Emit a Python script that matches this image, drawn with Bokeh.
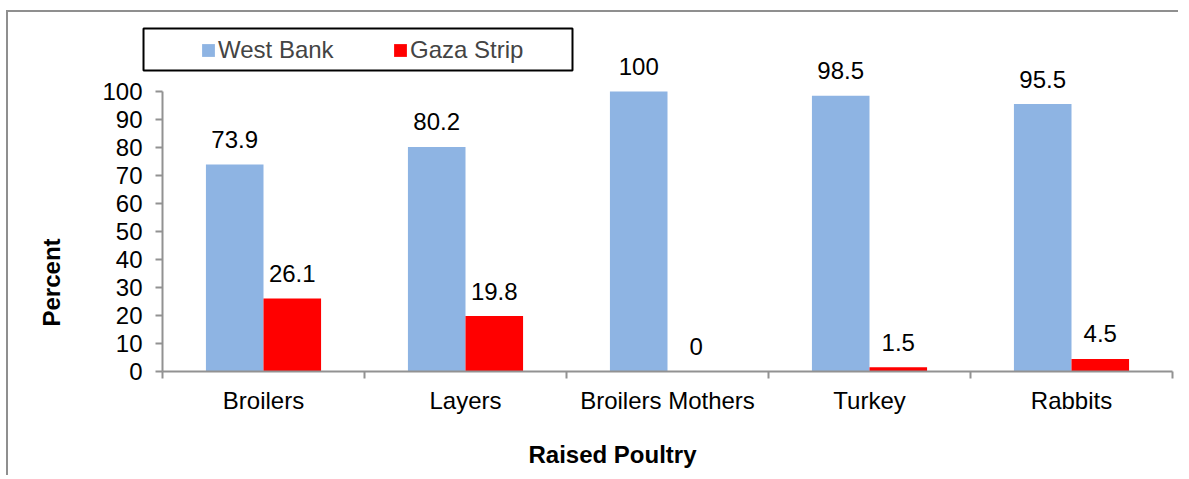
import math
from bokeh.plotting import figure
from bokeh.models import (Range1d, FixedTicker, ColumnDataSource, LabelSet, Label,
                          Legend, LegendItem, BoxAnnotation)
from bokeh.transform import dodge
from bokeh.embed import file_html
from bokeh.resources import INLINE
from bokeh.core.properties import value

# ---- data ----
categories = ["Broilers", "Layers", "Broilers Mothers", "Turkey", "Rabbits"]
west_bank = [73.9, 80.2, 100, 98.5, 95.5]
gaza_strip = [26.1, 19.8, 0, 1.5, 4.5]
y_ticks = [0, 10, 20, 30, 40, 50, 60, 70, 80, 90, 100]
series_names = ["West Bank", "Gaza Strip"]
series_colors = ["#8EB4E3", "#FF0000"]
x_title = "Raised Poultry"
y_title = "Percent"

FONT = "Liberation Sans"
FS = "24px"
AXIS_GREY = "#929292"

# ---- layout (canvas pixels) ----
W, H = 1172, 465
X0_PX, Y0_PX = 154, 359        # canvas position of data origin (0, 0)
PX_PER_CAT, PX_PER_PCT = 202.0, 2.8

positions = [i + 0.5 for i in range(len(categories))]
src = ColumnDataSource(dict(
    x=positions,
    wb=west_bank,
    gs=gaza_strip,
    wb_lbl=[f"{v:g}" for v in west_bank],
    gs_lbl=[f"{v:g}" for v in gaza_strip],
))

x_range = Range1d(-X0_PX / PX_PER_CAT, (W - X0_PX) / PX_PER_CAT)
y_range = Range1d(-(H - Y0_PX) / PX_PER_PCT, Y0_PX / PX_PER_PCT)

p = figure(width=W, height=H, x_range=x_range, y_range=y_range,
           output_backend="svg", toolbar_location=None,
           min_border_left=0, min_border_right=0,
           min_border_top=0, min_border_bottom=0)
p.styles = {"border-left": "2px solid #8f8f8f", "border-top": "2px solid #8f8f8f",
            "margin-left": "6px", "margin-top": "10px"}
p.outline_line_color = None
p.xgrid.visible = False
p.ygrid.visible = False
p.background_fill_color = "white"
p.border_fill_color = "white"

bw = 0.285
r1 = p.vbar(x=dodge("x", -bw / 2, range=p.x_range), top="wb", width=bw, source=src,
            fill_color=series_colors[0], line_color=None)
r2 = p.vbar(x=dodge("x", bw / 2, range=p.x_range), top="gs", width=bw, source=src,
            fill_color=series_colors[1], line_color=None)

for col, lbl, off in (("wb", "wb_lbl", -bw / 2), ("gs", "gs_lbl", bw / 2)):
    p.add_layout(LabelSet(x=dodge("x", off, range=p.x_range), y=col, text=lbl, source=src,
                          text_align="center", text_baseline="middle", y_offset=25,
                          text_font=value(FONT), text_font_size=value(FS), text_color="black"))

# y axis (fixed at x = 0)
ya = p.yaxis[0]
ya.fixed_location = 0
ya.ticker = FixedTicker(ticks=y_ticks)
ya.bounds = (0, 100)
ya.axis_line_color = AXIS_GREY
ya.axis_line_width = 2
ya.major_tick_line_color = AXIS_GREY
ya.major_tick_line_width = 2
ya.major_tick_out = 7
ya.major_tick_in = 0
ya.minor_tick_line_color = None
ya.major_label_standoff = 13
ya.major_label_text_font = FONT
ya.major_label_text_font_size = FS
ya.major_label_text_color = "black"

# x axis (fixed at y = 0)
xa = p.xaxis[0]
xa.fixed_location = 0
xa.ticker = FixedTicker(ticks=positions, minor_ticks=list(range(len(categories) + 1)))
xa.major_label_overrides = {pos: c for pos, c in zip(positions, categories)}
xa.bounds = (0, len(categories))
xa.axis_line_color = AXIS_GREY
xa.axis_line_width = 2
xa.major_tick_line_color = None
xa.minor_tick_line_color = AXIS_GREY
xa.minor_tick_line_width = 2
xa.minor_tick_out = 7
xa.minor_tick_in = 0
xa.major_label_standoff = 8
xa.major_label_text_font = FONT
xa.major_label_text_font_size = FS
xa.major_label_text_color = "black"

# axis titles
p.add_layout(Label(x=-0.5495, y=31.8, text=y_title, angle=math.pi / 2,
                   text_align="center", text_baseline="alphabetic",
                   text_font=FONT, text_font_size="24px", text_font_style="bold",
                   text_color="black"))
p.add_layout(Label(x=2.2277, y=-29.65, text=x_title,
                   text_align="center", text_baseline="alphabetic",
                   text_font=FONT, text_font_size="24px", text_font_style="bold",
                   text_color="black"))

# legend (items) + its frame
legend = Legend(items=[LegendItem(label=series_names[0], renderers=[r1]),
                       LegendItem(label=series_names[1], renderers=[r2])],
                orientation="horizontal", location=(192, 407 + (H - 459)),
                border_line_color=None, background_fill_alpha=0,
                padding=0, margin=0, spacing=56, label_standoff=2, label_width=118,
                glyph_width=16, glyph_height=16,
                label_text_font=FONT, label_text_font_size=FS)
p.add_layout(legend)
p.add_layout(BoxAnnotation(left=-0.094, right=2.0297, top=122.5, bottom=107.5,
                           fill_color=None, fill_alpha=0,
                           line_color="black", line_alpha=1, line_width=2))

open("out.html", "w").write(file_html(p, INLINE))
